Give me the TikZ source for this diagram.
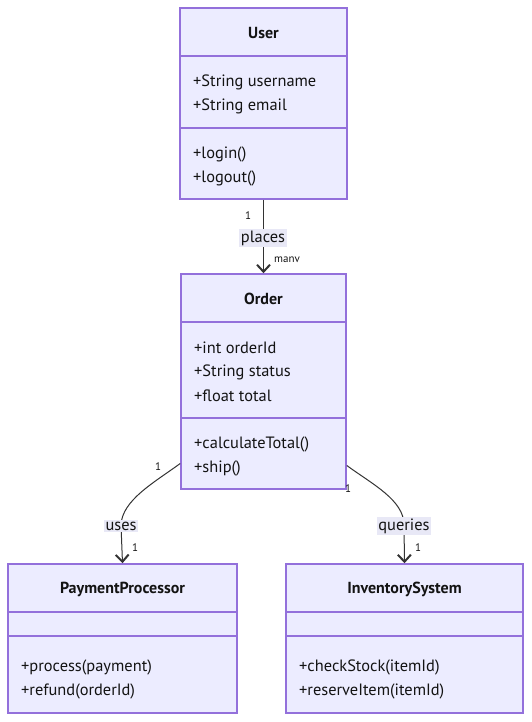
\documentclass[tikz,border=0pt]{standalone}
\usepackage{fontspec}
\setmainfont{PT Sans}
\usetikzlibrary{arrows.meta}
\definecolor{classfill}{HTML}{ECECFF}
\definecolor{classline}{HTML}{9370DB}
\definecolor{edgeline}{HTML}{333333}
\definecolor{lblfill}{HTML}{E8E8F6}
\definecolor{txt}{HTML}{131313}
\begin{document}
\begin{tikzpicture}[x=1pt, y=-1pt,
	classbox/.style = {draw=classline, fill=classfill, line width=1.6pt, inner sep=0pt},
	divider/.style = {draw=classline, line width=1.6pt},
	title/.style = {font=\fontsize{16}{19}\selectfont\bfseries, text=txt},
	member/.style = {font=\fontsize{16.4}{19}\selectfont, text=txt, anchor=west, inner sep=0pt},
	edge/.style = {draw=edgeline, line width=1pt, -{Straight Barb[length=7pt, width=13pt, line width=2pt]}},
	lbl/.style = {fill=lblfill, font=\fontsize{16.4}{19}\selectfont, text=txt, inner sep=1.5pt},
	mult/.style = {font=\fontsize{11}{13}\selectfont, text=txt, inner sep=0pt}]
		\useasboundingbox (0,0) rectangle (531,722);
		% Luokat
		\node[classbox, minimum width=167pt, minimum height=191pt] (user) at (263.5,103.5) {};
		\node[classbox, minimum width=165pt, minimum height=215pt] (order) at (263.5,381.5) {};
		\node[classbox, minimum width=229pt, minimum height=149pt] (payment) at (122.5,638.5) {};
		\node[classbox, minimum width=237pt, minimum height=149pt] (inventory) at (404.5,638.5) {};
		% Erottimet
		\draw[divider] (user.west |- 0,56) -- (user.east |- 0,56);
		\draw[divider] (user.west |- 0,128) -- (user.east |- 0,128);
		\draw[divider] (order.west |- 0,322) -- (order.east |- 0,322);
		\draw[divider] (order.west |- 0,418) -- (order.east |- 0,418);
		\draw[divider] (payment.west |- 0,612) -- (payment.east |- 0,612);
		\draw[divider] (payment.west |- 0,636) -- (payment.east |- 0,636);
		\draw[divider] (inventory.west |- 0,612) -- (inventory.east |- 0,612);
		\draw[divider] (inventory.west |- 0,636) -- (inventory.east |- 0,636);
		% Otsikot
		\node[title] (userT) at (263.5,33) {User};
		\node[title] (orderT) at (263.5,299) {Order};
		\node[title] (paymentT) at (122.5,589) {PaymentProcessor};
		\node[title] (inventoryT) at (404.5,589) {InventorySystem};
		% Jasenet
		\node[member] (userA) at (193,82) {+String username};
		\node[member] (userB) at (193,106) {+String email};
		\node[member] (userC) at (193,154) {+login()};
		\node[member] (userD) at (193,178) {+logout()};
		\node[member] (orderA) at (194,348) {+int orderId};
		\node[member] (orderB) at (194,372) {+String status};
		\node[member] (orderC) at (194,396) {+float total};
		\node[member] (orderD) at (194,444) {+calculateTotal()};
		\node[member] (orderE) at (194,468) {+ship()};
		\node[member] (paymentA) at (21,667) {+process(payment)};
		\node[member] (paymentB) at (21,691) {+refund(orderId)};
		\node[member] (inventoryA) at (299,667) {+checkStock(itemId)};
		\node[member] (inventoryB) at (299,691) {+reserveItem(itemId)};
		% Yhteydet
		\coordinate (orderL) at ([yshift=-82pt]order.west);
		\coordinate (orderR) at ([yshift=-84pt]order.east);
		\draw[edge] (user.south) -- (order.north);
		\draw[edge] (orderL) .. controls (155,482) and (122,500) .. (121,525) -- (payment.north);
		\draw[edge] (orderR) .. controls (372,484) and (404,500) .. (404,525) -- (inventory.north);
		% Nimiot
		\node[lbl] (places) at (263,238) {places};
		\node[lbl] (uses) at (121,526) {uses};
		\node[lbl] (queries) at (404,526) {queries};
		\node[mult] (m1) at (248,216) {1};
		\node[mult] (m2) at (287,260) {manv};
		\node[mult] (m3) at (158,467) {1};
		\node[mult] (m4) at (135,548) {1};
		\node[mult] (m5) at (348,489) {1};
		\node[mult] (m6) at (418,548) {1};
\end{tikzpicture}
\end{document}
